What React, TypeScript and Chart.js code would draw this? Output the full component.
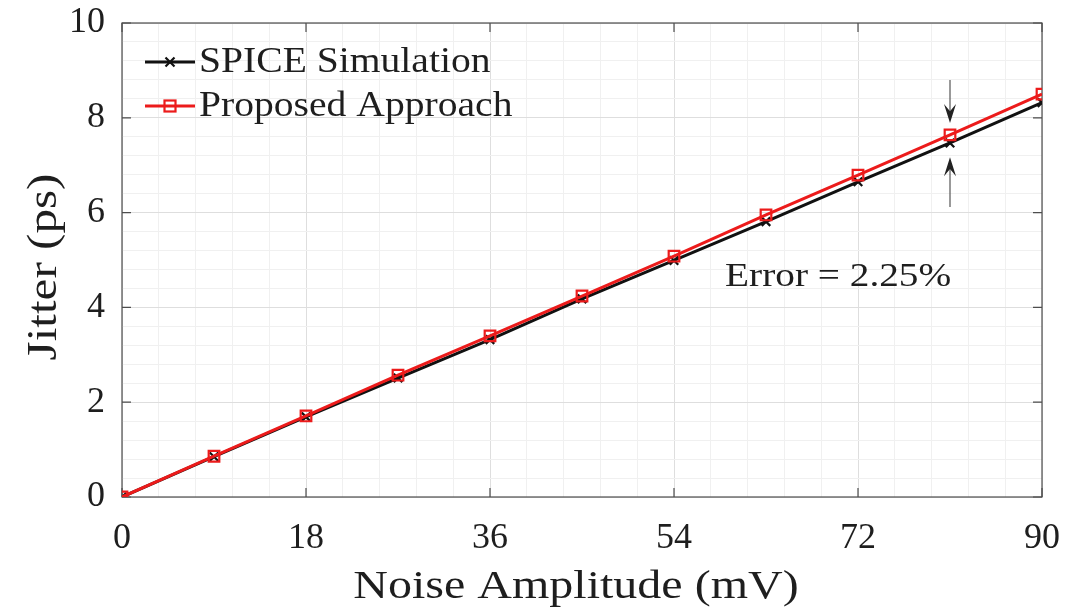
import React, { useEffect, useRef } from 'react';
import { Chart, registerables } from 'chart.js';

Chart.register(...registerables);

// ---- data ----
const noiseAmplitude = [0, 9, 18, 27, 36, 45, 54, 63, 72, 81, 90];
const spiceJitter = [0, 0.85, 1.69, 2.51, 3.32, 4.18, 4.99, 5.81, 6.65, 7.47, 8.32];
const proposedJitter = [0, 0.86, 1.71, 2.57, 3.4, 4.24, 5.08, 5.95, 6.79, 7.64, 8.5];
const xMajorTicks = [0, 18, 36, 54, 72, 90];
const yMajorTicks = [0, 2, 4, 6, 8, 10];
const minorPerMajor = 5;
const seriesNames = ['SPICE Simulation', 'Proposed Approach'];
const xTitle = 'Noise Amplitude (mV)';
const yTitle = 'Jitter (ps)';
const errorLabel = 'Error = 2.25%';
const errorLabelAt = { x: 59, y: 4.45 };
const arrowAtX = 81;
const upperArrow = [8.8, 7.89];
const lowerArrow = [6.12, 7.17];

const FONT = "'Liberation Serif', 'Times New Roman', serif";
const RED = '#ec1b1b';
const BLACK = '#111111';
const TEXT = '#1e1e1e';

function buildTicks(major: number[]) {
  const out: number[] = [];
  for (let i = 0; i < major.length - 1; i++) {
    const step = (major[i + 1] - major[i]) / minorPerMajor;
    for (let k = 0; k < minorPerMajor; k++) out.push(major[i] + k * step);
  }
  out.push(major[major.length - 1]);
  return out;
}
const isMajor = (v: number, major: number[]) => major.some((m) => Math.abs(m - v) < 1e-6);

function drawArrow(ctx: CanvasRenderingContext2D, x: number, y0: number, y1: number) {
  const dir = y1 > y0 ? 1 : -1;
  const hl = 19;
  const hw = 6;
  ctx.beginPath();
  ctx.moveTo(x, y0);
  ctx.lineTo(x, y1 - dir * hl * 0.6);
  ctx.stroke();
  ctx.beginPath();
  ctx.moveTo(x, y1);
  ctx.lineTo(x - hw, y1 - dir * hl);
  ctx.lineTo(x, y1 - dir * hl * 0.62);
  ctx.lineTo(x + hw, y1 - dir * hl);
  ctx.closePath();
  ctx.fill();
}

// text drawn with a horizontal stretch (reference font is wider than Times)
function stretchedText(
  ctx: CanvasRenderingContext2D,
  text: string,
  x: number,
  y: number,
  size: number,
  sx: number,
  align: CanvasTextAlign,
  rotate = 0
) {
  ctx.save();
  ctx.translate(x, y);
  if (rotate) ctx.rotate(rotate);
  ctx.scale(sx, 1);
  ctx.font = `${size}px ${FONT}`;
  ctx.fillStyle = TEXT;
  ctx.textAlign = align;
  ctx.textBaseline = 'alphabetic';
  ctx.fillText(text, 0, 0);
  ctx.restore();
}

const decorPlugin = {
  id: 'decor',
  beforeDatasetsDraw(chart: any) {
    const { ctx, chartArea: a, scales } = chart;
    const x = scales.x;
    const y = scales.y;
    ctx.save();
    ctx.strokeStyle = '#4d4d4d';
    ctx.lineWidth = 1.2;
    ctx.strokeRect(a.left, a.top, a.right - a.left, a.bottom - a.top);
    const tl = 9;
    ctx.beginPath();
    xMajorTicks.forEach((v) => {
      const px = x.getPixelForValue(v);
      ctx.moveTo(px, a.bottom);
      ctx.lineTo(px, a.bottom - tl);
      ctx.moveTo(px, a.top);
      ctx.lineTo(px, a.top + tl);
    });
    yMajorTicks.forEach((v) => {
      const py = y.getPixelForValue(v);
      ctx.moveTo(a.left, py);
      ctx.lineTo(a.left + tl, py);
      ctx.moveTo(a.right, py);
      ctx.lineTo(a.right - tl, py);
    });
    ctx.stroke();
    ctx.restore();
  },
  afterDatasetsDraw(chart: any) {
    const { ctx, chartArea: a, scales } = chart;
    const x = scales.x;
    const y = scales.y;
    ctx.save();
    // arrows
    ctx.strokeStyle = '#555';
    ctx.fillStyle = '#222';
    ctx.lineWidth = 1.2;
    const ax = x.getPixelForValue(arrowAtX);
    drawArrow(ctx, ax, y.getPixelForValue(upperArrow[0]), y.getPixelForValue(upperArrow[1]));
    drawArrow(ctx, ax, y.getPixelForValue(lowerArrow[0]), y.getPixelForValue(lowerArrow[1]));
    // error label
    stretchedText(ctx, errorLabel, x.getPixelForValue(errorLabelAt.x), y.getPixelForValue(errorLabelAt.y), 33, 1.19, 'left');
    // legend
    const lx0 = a.left + 23;
    const lx1 = a.left + 73;
    const rows = [a.top + 39, a.top + 83];
    const colors = [BLACK, RED];
    rows.forEach((ry, i) => {
      ctx.strokeStyle = colors[i];
      ctx.lineWidth = 3;
      ctx.beginPath();
      ctx.moveTo(lx0, ry);
      ctx.lineTo(lx1, ry);
      ctx.stroke();
      const mx = (lx0 + lx1) / 2;
      ctx.beginPath();
      if (i === 0) {
        const r = 4.5;
        ctx.moveTo(mx - r, ry - r);
        ctx.lineTo(mx + r, ry + r);
        ctx.moveTo(mx - r, ry + r);
        ctx.lineTo(mx + r, ry - r);
        ctx.lineWidth = 2.2;
        ctx.stroke();
      } else {
        ctx.lineWidth = 2.2;
        ctx.strokeRect(mx - 5.5, ry - 5.5, 11, 11);
      }
      stretchedText(ctx, seriesNames[i], lx1 + 4, ry + 10, 36, 1.1, 'left');
    });
    ctx.restore();
  },
  afterDraw(chart: any) {
    const { ctx, chartArea: a } = chart;
    stretchedText(ctx, xTitle, (a.left + a.right) / 2 - 6, 598, 40, 1.2, 'center');
    stretchedText(ctx, yTitle, 56, (a.top + a.bottom) / 2 + 7, 42, 1.17, 'center', -Math.PI / 2);
  },
};

export default function App() {
  const ref = useRef<HTMLCanvasElement | null>(null);
  useEffect(() => {
    if (!ref.current) return;
    const xTicks = buildTicks(xMajorTicks);
    const yTicks = buildTicks(yMajorTicks);
    const chart = new Chart(ref.current, {
      type: 'line',
      data: {
        datasets: [
          {
            label: seriesNames[1],
            data: noiseAmplitude.map((v, i) => ({ x: v, y: proposedJitter[i] })),
            borderColor: RED,
            backgroundColor: 'rgba(0,0,0,0)',
            borderWidth: 3,
            pointStyle: 'rect',
            pointRadius: 7.5,
            pointBorderWidth: 2.2,
            pointBorderColor: RED,
            pointBackgroundColor: 'rgba(0,0,0,0)',
          },
          {
            label: seriesNames[0],
            data: noiseAmplitude.map((v, i) => ({ x: v, y: spiceJitter[i] })),
            borderColor: BLACK,
            backgroundColor: 'rgba(0,0,0,0)',
            borderWidth: 3,
            pointStyle: 'crossRot',
            pointRadius: 6,
            pointBorderWidth: 2.2,
            pointBorderColor: BLACK,
          },
        ],
      },
      options: {
        animation: false,
        responsive: false,
        devicePixelRatio: 1,
        layout: { padding: { top: 23, right: 35, left: 0, bottom: 0 } },
        plugins: { legend: { display: false }, tooltip: { enabled: false } },
        scales: {
          x: {
            type: 'linear',
            min: xMajorTicks[0],
            max: xMajorTicks[xMajorTicks.length - 1],
            afterBuildTicks: (s: any) => {
              s.ticks = xTicks.map((v) => ({ value: v }));
            },
            afterFit: (s: any) => {
              s.height = 114;
              s.paddingLeft = 0;
              s.paddingRight = 0;
            },
            grid: {
              drawTicks: false,
              color: (c: any) => (isMajor(c.tick.value, xMajorTicks) ? '#dedede' : '#f0f0f0'),
              lineWidth: 1,
            },
            border: { display: false },
            ticks: {
              autoSkip: false,
              maxRotation: 0,
              padding: 20,
              color: TEXT,
              font: { family: FONT, size: 36 },
              callback: (v: any) => (isMajor(Number(v), xMajorTicks) ? String(Math.round(Number(v))) : ''),
            },
            title: { display: false },
          },
          y: {
            type: 'linear',
            min: yMajorTicks[0],
            max: yMajorTicks[yMajorTicks.length - 1],
            afterBuildTicks: (s: any) => {
              s.ticks = yTicks.map((v) => ({ value: v }));
            },
            afterFit: (s: any) => {
              s.width = 122;
              s.paddingTop = 0;
              s.paddingBottom = 0;
            },
            grid: {
              drawTicks: false,
              color: (c: any) => (isMajor(c.tick.value, yMajorTicks) ? '#dedede' : '#f0f0f0'),
              lineWidth: 1,
            },
            border: { display: false },
            ticks: {
              autoSkip: false,
              padding: 17,
              color: TEXT,
              font: { family: FONT, size: 36 },
              callback: (v: any) => (isMajor(Number(v), yMajorTicks) ? String(Math.round(Number(v))) : ''),
            },
            title: { display: false },
          },
        },
      },
      plugins: [decorPlugin],
    });
    return () => chart.destroy();
  }, []);
  return (
    <div style={{ position: 'absolute', left: 0, top: 0, width: 1077, height: 611, background: '#fff' }}>
      <canvas ref={ref} width={1077} height={611} />
    </div>
  );
}
